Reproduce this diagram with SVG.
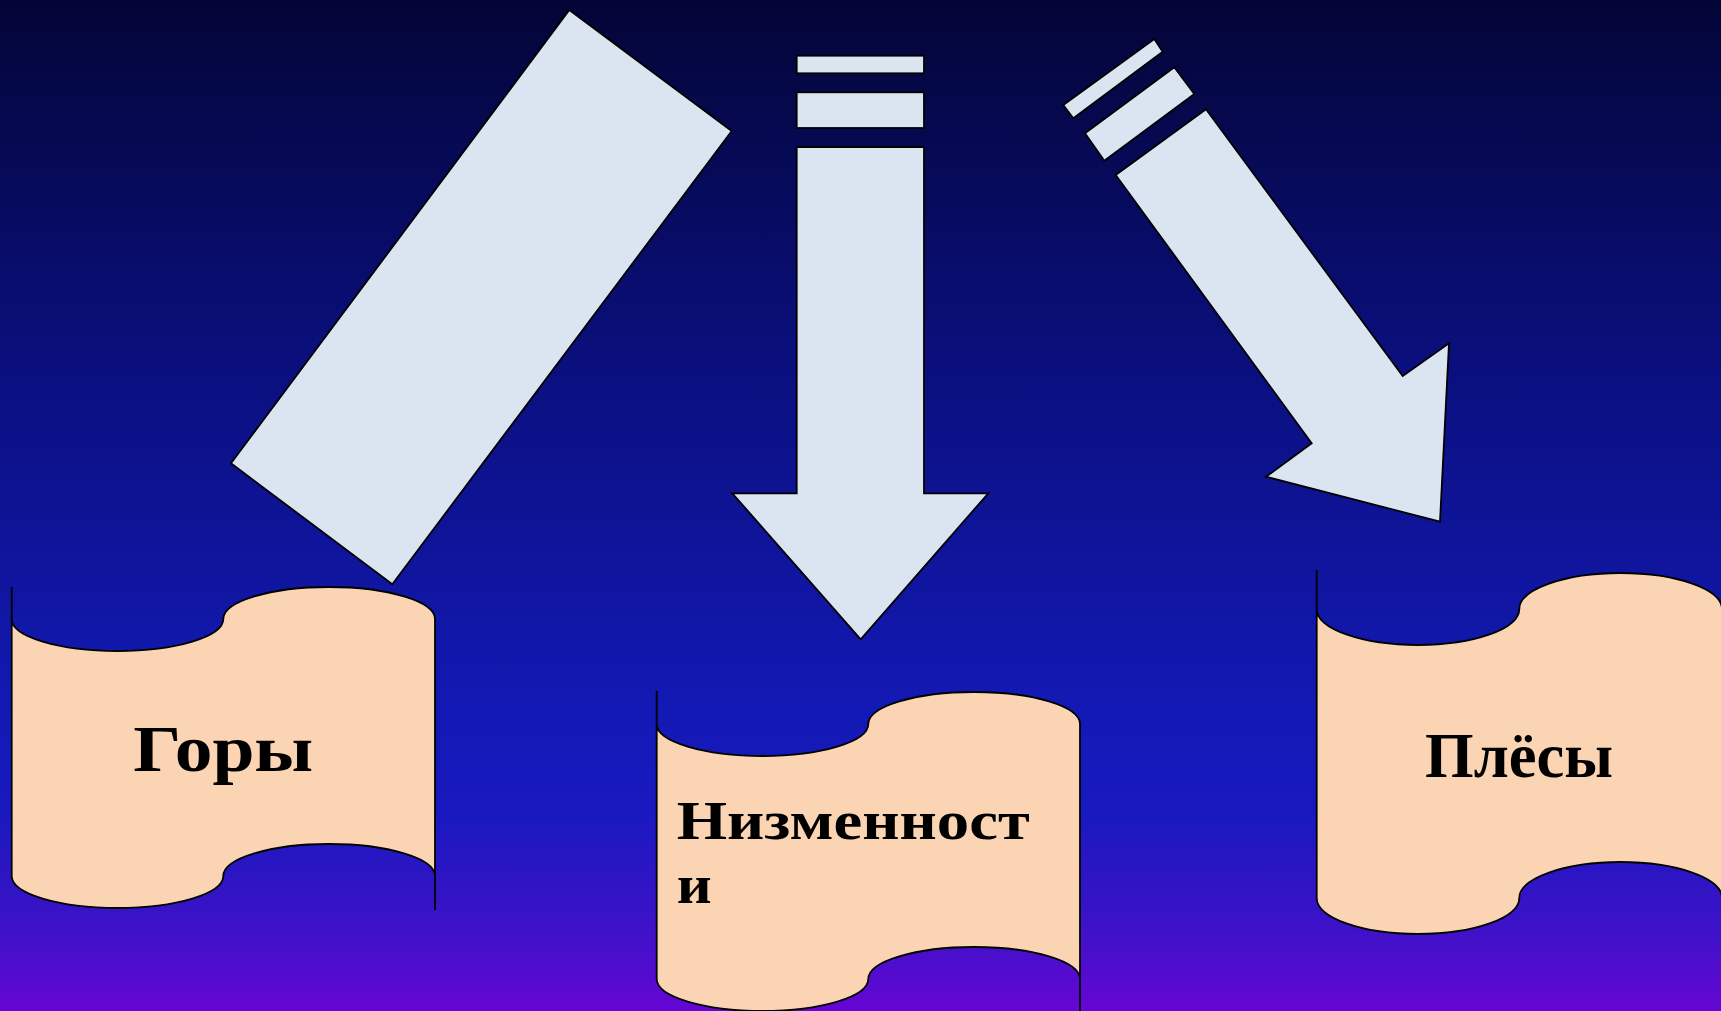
<svg xmlns="http://www.w3.org/2000/svg" width="1721" height="1011" viewBox="0 0 1721 1011">
<defs>
<linearGradient id="bg" x1="0" y1="0" x2="0" y2="1">
<stop offset="0" stop-color="#030536"/>
<stop offset="0.35" stop-color="#0a0f7c"/>
<stop offset="0.7" stop-color="#1319b4"/>
<stop offset="0.8" stop-color="#1819bf"/>
<stop offset="0.92" stop-color="#3e12c8"/>
<stop offset="1" stop-color="#6606d4"/>
</linearGradient>
</defs>
<style>
.arrow{fill:#dbe5f1;stroke:#000;stroke-width:1.8;stroke-linejoin:miter}
.scroll{fill:#fbd4b4;stroke:#000;stroke-width:1.8}
.edge{fill:none;stroke:#000;stroke-width:1.8}
.lbl{font-family:"Liberation Serif","Times New Roman",serif;font-weight:bold;fill:#000}
</style>
<rect x="0" y="0" width="1721" height="1011" fill="url(#bg)"/>
<g id="connectors">
<polygon class="arrow" points="569.3,10 731.7,131 392.3,584.3 231,463.3"/>
<g id="arrow-down">
<rect class="arrow" x="796.7" y="55.7" width="127.3" height="17.6"/>
<rect class="arrow" x="796.7" y="92.3" width="127.3" height="35.7"/>
<polygon class="arrow" points="796.7,147 924,147 924,493.3 988.3,493.3 860.7,639.3 732.3,493.3 796.7,493.3"/>
</g>
<g id="arrow-diag">
<polygon class="arrow" points="1154.3,39 1162.7,51.7 1073.3,118.3 1063.3,105"/>
<polygon class="arrow" points="1174.3,67.3 1194.3,94 1104.3,160.7 1085,133.3"/>
<polygon class="arrow" points="1206,109.3 1402.7,376 1449,343.3 1440,521.7 1266,476.7 1311.7,443.3 1115.7,175"/>
</g>
</g>
<g id="node-gory">
<path class="scroll" d="M11.7,619 A105.8,32 0 0 0 223.3,619 A105.8,32 0 0 1 435,619 L435,876 A105.8,32 0 0 0 223.3,876 A105.8,32 0 0 1 11.7,876 Z"/>
<path class="edge" d="M11.7,587 V619 M435,876 V910"/>
<text class="lbl" x="133.3" y="771" font-size="66" textLength="180" lengthAdjust="spacingAndGlyphs">Горы</text>
</g>
<g id="node-nizmennosti">
<path class="scroll" d="M656.7,724 A105.8,32 0 0 0 868.3,724 A105.8,32 0 0 1 1080,724 L1080,979 A105.8,32 0 0 0 868.3,979 A105.8,32 0 0 1 656.7,979 Z"/>
<path class="edge" d="M656.7,691 V724 M1080,979 V1011"/>
<text class="lbl" x="676.7" y="839" font-size="54" textLength="353" lengthAdjust="spacingAndGlyphs">Низменност</text>
<text class="lbl" x="676.7" y="903" font-size="54" textLength="35" lengthAdjust="spacingAndGlyphs">и</text>
</g>
<g id="node-plyosy">
<path class="scroll" d="M1316.7,609 A101.3,36 0 0 0 1519.3,609 A101.3,36 0 0 1 1722,609 L1722,898 A101.3,36 0 0 0 1519.3,898 A101.3,36 0 0 1 1316.7,898 Z"/>
<path class="edge" d="M1316.7,570 V609"/>
<text class="lbl" x="1425" y="777" font-size="64" textLength="188" lengthAdjust="spacingAndGlyphs">Плёсы</text>
</g>
</svg>
